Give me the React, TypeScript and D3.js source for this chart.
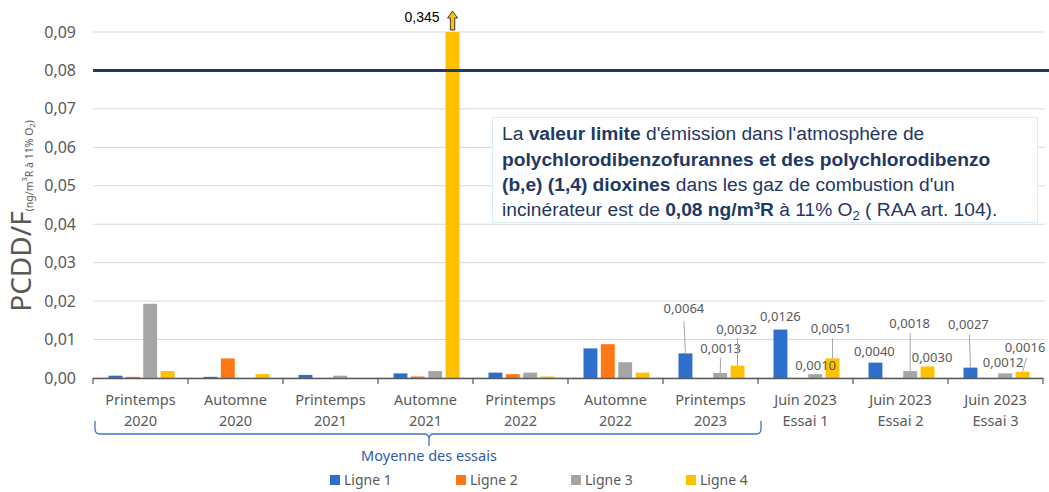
import React from "react";
import * as d3 from "d3";

// ---------- DATA ----------
const catLine1 = ["Printemps", "Automne", "Printemps", "Automne", "Printemps", "Automne", "Printemps", "Juin 2023", "Juin 2023", "Juin 2023"];
const catLine2 = ["2020", "2020", "2021", "2021", "2022", "2022", "2023", "Essai 1", "Essai 2", "Essai 3"];
const seriesNames = ["Ligne 1", "Ligne 2", "Ligne 3", "Ligne 4"];
const ligne1 = [0.0006, 0.0003, 0.0008, 0.0012, 0.0014, 0.0077, 0.0064, 0.0126, 0.0040, 0.0027];
const ligne2 = [0.0003, 0.0051, 0.0, 0.0004, 0.0010, 0.0088, 0.0, 0.0, 0.0, 0.0];
const ligne3 = [0.0193, 0.0, 0.0006, 0.0018, 0.0014, 0.0041, 0.0013, 0.0010, 0.0018, 0.0012];
const ligne4 = [0.0018, 0.0010, 0.0, 0.345, 0.0004, 0.0014, 0.0032, 0.0051, 0.0030, 0.0016];
const yTicks = [0, 0.01, 0.02, 0.03, 0.04, 0.05, 0.06, 0.07, 0.08, 0.09];
const limitValue = 0.08;
const overflowLabel = "0,345";
// labelled bars: [category index, series index]
const labelled: [number, number][] = [
  [6, 0], [6, 2], [6, 3],
  [7, 0], [7, 2], [7, 3],
  [8, 0], [8, 2], [8, 3],
  [9, 0], [9, 2], [9, 3],
];

// ---------- LAYOUT / STYLE ----------
const W = 1049, H = 492;
const colors = ["#2F6FCC", "#FF7715", "#A5A5A5", "#FFC000"];
const font = "'Noto Sans', sans-serif";
// label offsets relative to bar top center: dx, dy, leader (start dx, start dy rel. label) or null
const labelLayout: { dx: number; dy: number; leader: null | [number, number] }[] = [
  { dx: -1.5, dy: -45, leader: [0, 13] },
  { dx: 0.5, dy: -25, leader: [0, 10] },
  { dx: -1, dy: -36, leader: [1, 8] },
  { dx: 0, dy: -13, leader: null },
  { dx: 0.5, dy: -9, leader: null },
  { dx: -1.5, dy: -30, leader: [1.5, 10] },
  { dx: -1, dy: -11, leader: null },
  { dx: -0.5, dy: -48, leader: [0.5, 10] },
  { dx: 4.5, dy: -8.5, leader: null },
  { dx: -2, dy: -43, leader: [1, 10] },
  { dx: -2, dy: -11, leader: null },
  { dx: 2.5, dy: -24, leader: [1.5, 10] },
];

export default function App() {
  const series = [ligne1, ligne2, ligne3, ligne4];
  const x0 = d3.scaleBand<number>().domain(d3.range(catLine1.length)).range([93, 1043]).paddingInner(0).paddingOuter(0);
  const x1 = d3.scaleBand<number>().domain(d3.range(4)).range([15.5, 81.5]).paddingInner(0.2).paddingOuter(0);
  const y = d3.scaleLinear().domain([0, 0.09]).range([378, 32]);
  const bw = x1.bandwidth();
  const fmt = (v: number) => v.toFixed(4).replace(".", ",");
  const yfmt = (v: number) => v.toFixed(2).replace(".", ",");
  const yMax = y.domain()[1];

  const bars: React.ReactNode[] = [];
  series.forEach((vals, s) => {
    vals.forEach((v, c) => {
      if (v <= 0) return;
      const vv = Math.min(v, yMax);
      const bx = (x0(c) as number) + (x1(s) as number);
      bars.push(
        <rect key={`b${s}-${c}`} x={bx} y={y(vv)} width={bw} height={y(0) - y(vv)} fill={colors[s]} />
      );
    });
  });

  // overflow arrow on the clipped bar
  let overflow: React.ReactNode = null;
  series.forEach((vals, s) => {
    vals.forEach((v, c) => {
      if (v > yMax) {
        const cx = (x0(c) as number) + (x1(s) as number) + bw / 2;
        const top = 11, bot = 30;
        const p = `M${cx},${top} L${cx + 5},${top + 7} L${cx + 2.2},${top + 7} L${cx + 2.2},${bot} L${cx - 2.2},${bot} L${cx - 2.2},${top + 7} L${cx - 5},${top + 7} Z`;
        overflow = (
          <g key="ov">
            <path d={p} fill="#FFC000" stroke="#3B3B3B" strokeWidth={1} strokeLinejoin="round" />
            <text x={cx - 13} y={22} textAnchor="end" fontFamily="'Liberation Sans', Arial, sans-serif" fontSize={14} fill="#000">{overflowLabel}</text>
          </g>
        );
      }
    });
  });

  const labels = labelled.map(([c, s], i) => {
    const v = series[s][c];
    const cx = (x0(c) as number) + (x1(s) as number) + bw / 2;
    const top = y(v);
    const L = labelLayout[i];
    const lx = cx + L.dx;
    const ly = top + L.dy;
    return (
      <g key={`l${i}`}>
        {L.leader && (
          <line x1={lx + L.leader[0]} y1={ly + L.leader[1]} x2={cx} y2={top} stroke="#A6A6A6" strokeWidth={1} />
        )}
        <text x={lx} y={ly + 4.5} textAnchor="middle" fontFamily={font} fontSize={13} fill="#595959">{fmt(v)}</text>
      </g>
    );
  });

  const legendX = [330, 456, 571, 686];

  return (
    <svg width={W} height={H} style={{ position: "absolute", left: 0, top: 0, background: "#fff" }}>
      {/* gridlines */}
      {yTicks.map((t) => (
        <line key={`g${t}`} x1={93} x2={1045} y1={y(t)} y2={y(t)} stroke="#D9D9D9" strokeWidth={1} />
      ))}
      {/* y tick labels */}
      {yTicks.map((t) => (
        <text key={`t${t}`} x={76} y={y(t) + 5.5} textAnchor="end" fontFamily={font} fontSize={16} fill="#595959">{yfmt(t)}</text>
      ))}
      {/* y axis title */}
      <text transform={`translate(31,${216}) rotate(-90)`} textAnchor="middle" fontFamily={font} fill="#595959">
        <tspan fontSize={28}>PCDD/F</tspan>
        <tspan fontSize={10.5} dy={2}>(ng/m</tspan>
        <tspan fontSize={7.5} dy={-6}>3</tspan>
        <tspan fontSize={10.5} dy={6}>R à 11% O</tspan>
        <tspan fontSize={7.5} dy={2}>2</tspan>
        <tspan fontSize={10.5} dy={-2}>)</tspan>
      </text>
      {/* annotation box */}
      <rect x={492.5} y={117.5} width={545} height={105} fill="#fff" stroke="#DDEBF7" strokeWidth={1} />
      <g fontFamily="'Liberation Sans', Arial, sans-serif" fontSize={19.2} fill="#1F3864">
        <text x={502} y={140}>La <tspan fontWeight="bold">valeur limite</tspan> d'émission dans l'atmosphère de</text>
        <text x={502} y={165.5} fontWeight="bold">polychlorodibenzofurannes et des polychlorodibenzo</text>
        <text x={502} y={191}><tspan fontWeight="bold">(b,e) (1,4) dioxines</tspan> dans les gaz de combustion d'un</text>
        <text x={502} y={216}>incinérateur est de <tspan fontWeight="bold">0,08 ng/m³R</tspan> à 11% O<tspan fontSize={13} dy={4}>2</tspan><tspan dy={-4}> ( RAA art. 104).</tspan></text>
      </g>
      {/* bars */}
      {bars}
      {overflow}
      {/* limit line */}
      <line x1={93} x2={1049} y1={y(limitValue)} y2={y(limitValue)} stroke="#1F3864" strokeWidth={3} />
      {/* x axis */}
      <line x1={93} x2={1043} y1={378.5} y2={378.5} stroke="#595959" strokeWidth={1.5} />
      {d3.range(catLine1.length + 1).map((i) => {
        const xx = 93 + i * x0.bandwidth();
        return <line key={`xt${i}`} x1={xx} x2={xx} y1={378} y2={384} stroke="#595959" strokeWidth={1.2} />;
      })}
      {catLine1.map((c, i) => {
        const cx = (x0(i) as number) + x0.bandwidth() / 2;
        return (
          <g key={`c${i}`}>
            <text x={cx} y={405} textAnchor="middle" fontFamily={font} fontSize={14.5} fill="#595959">{c}</text>
            <text x={cx} y={426} textAnchor="middle" fontFamily={font} fontSize={14.5} fill="#595959">{catLine2[i]}</text>
          </g>
        );
      })}
      {labels}
      {/* bracket */}
      <path d="M95,421 L95,429 Q95,434 100,434 L424,434 Q429,434 429,439 L429,446 M429,439 Q429,434 434,434 L756,434 Q761,434 761,429 L761,421"
        fill="none" stroke="#4472C4" strokeWidth={1.3} />
      <text x={429} y={461} textAnchor="middle" fontFamily={font} fontSize={14.5} fill="#2F5BA8">Moyenne des essais</text>
      {/* legend */}
      {seriesNames.map((n, i) => (
        <g key={`lg${i}`}>
          <rect x={legendX[i]} y={475} width={10} height={10} fill={colors[i]} />
          <text x={legendX[i] + 14} y={485} fontFamily={font} fontSize={14} fill="#595959">{n}</text>
        </g>
      ))}
    </svg>
  );
}
